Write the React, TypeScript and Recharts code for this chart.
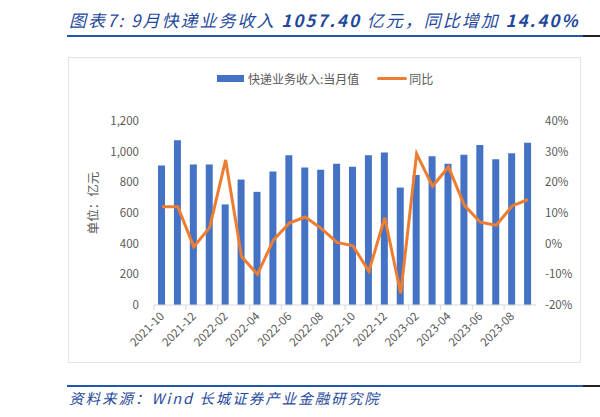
import { Bar, ComposedChart, Legend, Line, XAxis, YAxis } from 'recharts';

const months = [
  '2021-10', '2021-11', '2021-12', '2022-01', '2022-02', '2022-03', '2022-04', '2022-05',
  '2022-06', '2022-07', '2022-08', '2022-09', '2022-10', '2022-11', '2022-12', '2023-01',
  '2023-02', '2023-03', '2023-04', '2023-05', '2023-06', '2023-07', '2023-08', '2023-09',
];

// 快递业务收入:当月值 (亿元)
const revenue = [
  910, 1074, 916, 916, 656, 818, 738, 870, 976, 896, 882, 922,
  902, 976, 994, 766, 848, 970, 922, 980, 1044, 950, 990, 1057.4,
];

// 同比 (%)
const yoy = [
  12.0, 12.0, -1.0, 5.3, 27.3, -4.2, -10.0, 1.2, 6.7, 8.7, 5.0, 0.4,
  -0.7, -9.0, 8.5, -16.2, 29.3, 18.7, 25.0, 12.5, 7.0, 6.0, 12.3, 14.4,
];

const leftTicks = [0, 200, 400, 600, 800, 1000, 1200];
const rightTicks = [-20, -10, 0, 10, 20, 30, 40];

const data = months.map((m, i) => ({ month: m, revenue: revenue[i], yoy: yoy[i] }));

const BLUE = '#4472C4';
const ORANGE = '#ED7D31';
const GRAY = '#595959';
const TITLE_BLUE = '#1F4A9C';

const PLOT_LEFT = 154;
const PLOT_RIGHT = 536;
const BAND = (PLOT_RIGHT - PLOT_LEFT) / months.length;

function XTick(props: any) {
  const { x, y, payload, index } = props;
  const tx = x + 3;
  const ty = y + 12;
  return (
    <g>
      <line x1={x - BAND / 2} x2={x - BAND / 2} y1={y} y2={y + 5} stroke="#d9d9d9" />
      {index === months.length - 2 && (
        <line x1={x + BAND * 1.5} x2={x + BAND * 1.5} y1={y} y2={y + 5} stroke="#d9d9d9" />
      )}
      <text
        x={tx}
        y={ty}
        textAnchor="end"
        fill={GRAY}
        fontSize={11.5}
        transform={`rotate(-45 ${tx} ${ty})`}
      >
        {payload.value}
      </text>
    </g>
  );
}

function LegendContent() {
  return (
    <div style={{ display: 'flex', alignItems: 'center', fontSize: 12, color: GRAY, height: 16 }}>
      <span style={{ display: 'inline-block', width: 27, height: 7, background: BLUE, marginRight: 4 }} />
      <span>快递业务收入:当月值</span>
      <span style={{ display: 'inline-block', width: 30, height: 3, background: ORANGE, marginLeft: 18, marginRight: 2, borderRadius: 2 }} />
      <span>同比</span>
    </div>
  );
}

export default function App() {
  return (
    <div style={{ position: 'relative', width: 600, height: 417, background: '#fff', fontFamily: '"Noto Sans CJK SC", "Liberation Sans", sans-serif', overflow: 'hidden' }}>
      <style>{'body{margin:0}'}</style>
      <div style={{ position: 'absolute', left: 69, top: 7, fontSize: 17, fontStyle: 'italic', color: TITLE_BLUE, letterSpacing: 2, whiteSpace: 'nowrap', lineHeight: '26px' }}>
        图表7: 9月快递业务收入 <b style={{ fontWeight: 600 }}>1057.40</b> 亿元，同比增加 <b style={{ fontWeight: 600 }}>14.40%</b>
      </div>
      <div style={{ position: 'absolute', left: 67, top: 35, width: 516, height: 2, background: '#2157A8' }} />
      <div style={{ position: 'absolute', left: 583, top: 35, width: 17, height: 2, background: '#222' }} />

      <div style={{ position: 'absolute', left: 68, top: 57, width: 513, height: 306, border: '1px solid #e3e3e3', boxSizing: 'border-box' }} />

      <div style={{ position: 'absolute', left: 0, top: 0 }}>
        <ComposedChart
          width={600}
          height={417}
          data={data}
          margin={{ top: 105, right: 24, bottom: 52, left: 114 }}
        >
          <XAxis
            dataKey="month"
            interval={1}
            tickLine={false}
            tickSize={0}
            tickMargin={0}
            axisLine={{ stroke: '#d9d9d9' }}
            tick={<XTick />}
            height={60}
          />
          <YAxis
            yAxisId="left"
            domain={[0, 1200]}
            ticks={leftTicks}
            width={40}
            axisLine={false}
            tickLine={false}
            tickSize={0}
            tickMargin={15}
            tick={{ fill: GRAY, fontSize: 11.5 }}
            tickFormatter={(v: number) => v.toLocaleString('en-US')}
            label={{
              content: () => (
                <text x={95} y={203} transform="rotate(-90 95 203)" textAnchor="middle" dominantBaseline="middle" fill={GRAY} fontSize={12.5}>
                  单位：亿元
                </text>
              ),
            }}
          />
          <YAxis
            yAxisId="right"
            orientation="right"
            domain={[-20, 40]}
            ticks={rightTicks}
            width={40}
            axisLine={false}
            tickLine={false}
            tickSize={0}
            tickMargin={9}
            tick={{ fill: GRAY, fontSize: 11.5 }}
            tickFormatter={(v: number) => `${v}%`}
          />
          <Legend
            verticalAlign="top"
            content={<LegendContent />}
            wrapperStyle={{ position: 'absolute', top: 70, left: 217, width: 'auto' }}
          />
          <Bar yAxisId="left" dataKey="revenue" name="快递业务收入:当月值" fill={BLUE} barSize={7} isAnimationActive={false} />
          <Line
            yAxisId="right"
            type="linear"
            dataKey="yoy"
            name="同比"
            stroke={ORANGE}
            strokeWidth={3}
            dot={false}
            isAnimationActive={false}
          />
        </ComposedChart>
      </div>

      <div style={{ position: 'absolute', left: 67, top: 385, width: 516, height: 2, background: '#2157A8' }} />
      <div style={{ position: 'absolute', left: 583, top: 385, width: 17, height: 2, background: '#222' }} />
      <div style={{ position: 'absolute', left: 69, top: 388, fontSize: 14.5, fontStyle: 'italic', color: TITLE_BLUE, letterSpacing: 2, whiteSpace: 'nowrap', lineHeight: '20px' }}>
        资料来源：Wind 长城证券产业金融研究院
      </div>
    </div>
  );
}
